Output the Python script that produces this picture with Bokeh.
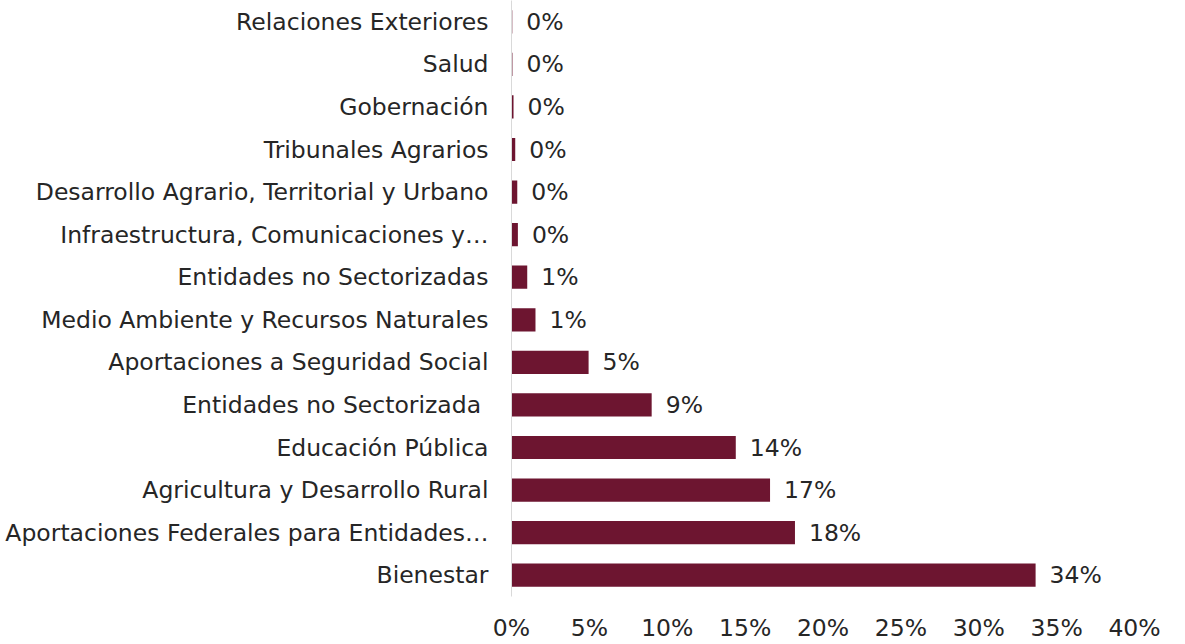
from bokeh.plotting import figure
from bokeh.models import Range1d, FixedTicker, ColumnDataSource
from bokeh.core.properties import value
from bokeh.embed import file_html
from bokeh.resources import INLINE

# Data (bottom to top)
categories = [
    "Bienestar",
    "Aportaciones Federales para Entidades…",
    "Agricultura y Desarrollo Rural",
    "Educación Pública",
    "Entidades no Sectorizada ",
    "Aportaciones a Seguridad Social",
    "Medio Ambiente y Recursos Naturales",
    "Entidades no Sectorizadas",
    "Infraestructura, Comunicaciones y…",
    "Desarrollo Agrario, Territorial y Urbano",
    "Tribunales Agrarios",
    "Gobernación",
    "Salud",
    "Relaciones Exteriores",
]
values = [33.65, 18.2, 16.6, 14.4, 9.0, 4.95, 1.54, 1.01, 0.41, 0.37, 0.24, 0.13, 0.06, 0.05]
value_labels = ["34%", "18%", "17%", "14%", "9%", "5%", "1%", "1%", "0%", "0%", "0%", "0%", "0%", "0%"]
x_ticks = [0, 5, 10, 15, 20, 25, 30, 35, 40]
x_tick_labels = ["0%", "5%", "10%", "15%", "20%", "25%", "30%", "35%", "40%"]

FONT = "DejaVu Sans"
FSIZE = "23.5px"
TEXT = "#262626"
BAR = "#6D1530"

idx = list(range(len(categories)))
src = ColumnDataSource(dict(y=idx, v=values, lab=value_labels))

p = figure(width=1177, height=644, output_backend="svg", toolbar_location=None,
           x_range=Range1d(0, 40), y_range=Range1d(-0.5, len(categories) - 0.5),
           min_border_left=511, min_border_right=43, min_border_top=0, min_border_bottom=0)

p.hbar(y="y", left=0, right="v", height=0.545, source=src, fill_color=BAR, line_color=None)
p.text(x="v", y="y", text="lab", source=src, x_offset=14, text_align="left",
       text_baseline="middle", text_font=value(FONT), text_font_size=FSIZE, text_color=TEXT)

p.outline_line_color = None
p.xgrid.visible = False
p.ygrid.visible = False
p.background_fill_color = "white"
p.border_fill_color = "white"

ya = p.yaxis[0]
ya.ticker = FixedTicker(ticks=idx)
ya.major_label_overrides = {i: c for i, c in zip(idx, categories)}
ya.axis_line_color = "#D9D9D9"
ya.axis_line_width = 1
ya.major_tick_line_color = None
ya.minor_tick_line_color = None
ya.major_label_standoff = 17
ya.major_label_text_font = FONT
ya.major_label_text_font_size = FSIZE
ya.major_label_text_color = TEXT

xa = p.xaxis[0]
xa.ticker = FixedTicker(ticks=x_ticks)
xa.major_label_overrides = {t: l for t, l in zip(x_ticks, x_tick_labels)}
xa.axis_line_color = None
xa.major_tick_line_color = None
xa.minor_tick_line_color = None
xa.major_label_standoff = 11
xa.major_label_text_font = FONT
xa.major_label_text_font_size = FSIZE
xa.major_label_text_color = TEXT

open("out.html", "w").write(file_html(p, INLINE))
